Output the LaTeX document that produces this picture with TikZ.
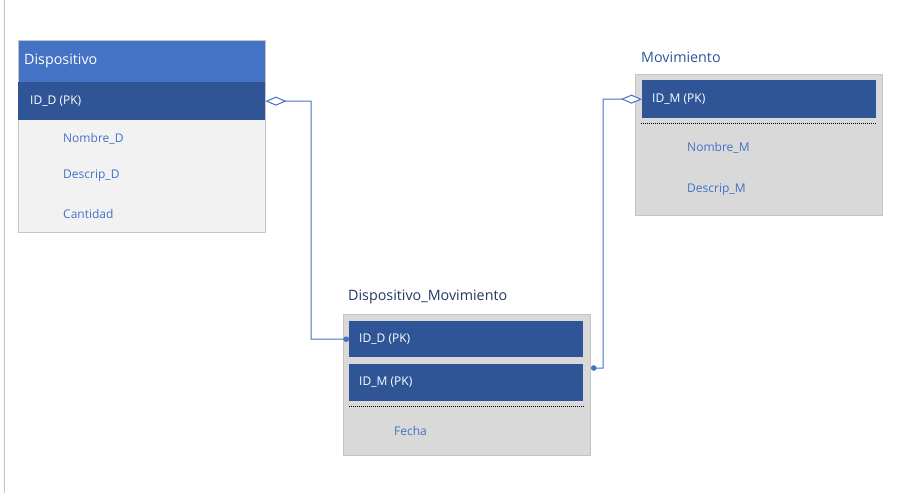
\documentclass[tikz,border=0pt]{standalone}
\usepackage{fontspec}
\setmainfont{Open Sans}
\usepackage{xcolor}
\definecolor{headBlue}{HTML}{4472C4}
\definecolor{keyBlue}{HTML}{2F5597}
\definecolor{titleDark}{HTML}{203864}
\definecolor{bodyLight}{HTML}{F2F2F2}
\definecolor{bodyGray}{HTML}{D9D9D9}
\definecolor{edgeGray}{HTML}{C4C4C4}
\usepackage{tikz}
\usetikzlibrary{positioning,calc,arrows.meta}
\tikzset{%
  tableBody/.style={%
    rectangle,
    draw=edgeGray,
    line width=0.8pt,
    anchor=north west,
    inner sep=0pt,
    minimum width=247pt
  },
  headBox/.style={%
    rectangle,
    draw=edgeGray,
    line width=0.8pt,
    fill=headBlue,
    anchor=north west,
    inner sep=0pt,
    minimum width=247pt,
    minimum height=42pt
  },
  keyRow/.style={%
    rectangle,
    fill=keyBlue,
    anchor=north west,
    inner sep=0pt,
    minimum width=234pt
  },
  keyText/.style={%
    anchor=west,
    inner sep=0pt,
    text=white,
    font=\fontsize{12}{14}\selectfont
  },
  attrText/.style={%
    anchor=west,
    inner sep=0pt,
    text=headBlue,
    font=\fontsize{12}{14}\selectfont
  },
  tableTitle/.style={%
    anchor=west,
    inner sep=0pt,
    font=\fontsize{14.3}{16}\selectfont
  },
  sepLine/.style={%
    line width=0.9pt,
    dash pattern=on 1pt off 1pt,
    color=black
  },
  relLine/.style={%
    line width=1pt,
    color=headBlue
  }
}

\begin{document}
\begin{tikzpicture}[x=1pt,y=-1pt]
  \useasboundingbox[fill=white] (0,0) rectangle (922,493);
  \draw[edgeGray, line width=1pt] (4,0) -- (4,493);

  % Dispositivo
  \node[tableBody, fill=bodyLight, minimum height=192pt] (dispBox) at (18,40) {};
  \node[headBox] (dispHead) at (18,40) {};
  \node[keyRow, minimum width=247pt, minimum height=38pt] (dispPK) at (18,82) {};
  \node[tableTitle, text=white] (dispTitle) at (24,61) {Dispositivo};
  \node[keyText] (dispPKText) at (30,101) {ID\_D (PK)};
  \node[attrText] (dispNombre) at (63,139) {Nombre\_D};
  \node[attrText] (dispDescrip) at (63,176) {Descrip\_D};
  \node[attrText] (dispCantidad) at (63,214) {Cantidad};

  % Movimiento
  \node[tableTitle, text=keyBlue] (movTitle) at (641,57) {Movimiento};
  \node[tableBody, fill=bodyGray, minimum height=141pt] (movBox) at (635,74) {};
  \node[keyRow, minimum height=38pt] (movPK) at (642,80) {};
  \node[keyText] (movPKText) at (652,99) {ID\_M (PK)};
  \draw[sepLine] (641,123) -- (877,123);
  \node[attrText] (movNombre) at (687,148) {Nombre\_M};
  \node[attrText] (movDescrip) at (687,190) {Descrip\_M};

  % Dispositivo_Movimiento
  \node[tableTitle, text=titleDark] (dmTitle) at (348,297) {Dispositivo\_Movimiento};
  \node[tableBody, fill=bodyGray, minimum height=141pt] (dmBox) at (343,314) {};
  \node[keyRow, minimum height=36pt] (dmPKD) at (349,321) {};
  \node[keyText] (dmPKDText) at (359,339) {ID\_D (PK)};
  \node[keyRow, minimum height=37pt] (dmPKM) at (349,364) {};
  \node[keyText] (dmPKMText) at (359,382) {ID\_M (PK)};
  \draw[sepLine] (349,406) -- (584,406);
  \node[attrText] (dmFecha) at (394,431) {Fecha};

  % relaciones
  \coordinate (bendD) at (311,101);
  \coordinate (bendM) at (603,99);
  \coordinate (dmLink) at (591,368);
  \draw[relLine, {Diamond[open,fill=white,length=21pt,width=9pt]}-{Circle[length=5.5pt]}]
    (dispPK.east) -- (bendD) |- (dmPKD.west);
  \draw[relLine, {Circle[length=5.5pt]}-{Diamond[open,fill=white,length=21pt,width=9pt]}]
    (dmLink) -| (bendM) -- (movPK.west);
\end{tikzpicture}
\end{document}
